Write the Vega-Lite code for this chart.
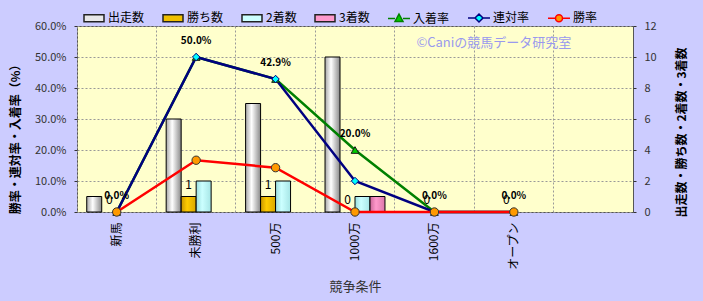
{
  "$schema": "https://vega.github.io/schema/vega-lite/v6.json",
  "width": 556,
  "height": 186,
  "autosize": {"type": "none"},
  "padding": {"left": 77, "top": 26, "right": 70, "bottom": 89},
  "background": "#ccccff",
  "config": {
    "font": "Noto Sans CJK JP",
    "view": {"fill": "#ffffcc", "stroke": "#555555", "strokeWidth": 1},
    "axis": {"domain": false, "labelColor": "#333333", "labelFontSize": 11, "titleColor": "#000000"},
    "legend": {"labelFontSize": 12, "labelColor": "#000000", "padding": 0}
  },
  "datasets": {
    "counts": [
      {"c": "新馬", "s": "出走数", "v": 1}, {"c": "新馬", "s": "勝ち数", "v": 0}, {"c": "新馬", "s": "2着数", "v": 0}, {"c": "新馬", "s": "3着数", "v": 0},
      {"c": "未勝利", "s": "出走数", "v": 6}, {"c": "未勝利", "s": "勝ち数", "v": 1}, {"c": "未勝利", "s": "2着数", "v": 2}, {"c": "未勝利", "s": "3着数", "v": 0},
      {"c": "500万", "s": "出走数", "v": 7}, {"c": "500万", "s": "勝ち数", "v": 1}, {"c": "500万", "s": "2着数", "v": 2}, {"c": "500万", "s": "3着数", "v": 0},
      {"c": "1000万", "s": "出走数", "v": 10}, {"c": "1000万", "s": "勝ち数", "v": 0}, {"c": "1000万", "s": "2着数", "v": 1}, {"c": "1000万", "s": "3着数", "v": 1},
      {"c": "1600万", "s": "出走数", "v": 0}, {"c": "1600万", "s": "勝ち数", "v": 0}, {"c": "1600万", "s": "2着数", "v": 0}, {"c": "1600万", "s": "3着数", "v": 0},
      {"c": "オープン", "s": "出走数", "v": 0}, {"c": "オープン", "s": "勝ち数", "v": 0}, {"c": "オープン", "s": "2着数", "v": 0}, {"c": "オープン", "s": "3着数", "v": 0}
    ],
    "rates": [
      {"c": "新馬", "s": "入着率", "v": 0}, {"c": "未勝利", "s": "入着率", "v": 0.5}, {"c": "500万", "s": "入着率", "v": 0.429}, {"c": "1000万", "s": "入着率", "v": 0.2}, {"c": "1600万", "s": "入着率", "v": 0}, {"c": "オープン", "s": "入着率", "v": 0},
      {"c": "新馬", "s": "連対率", "v": 0}, {"c": "未勝利", "s": "連対率", "v": 0.5}, {"c": "500万", "s": "連対率", "v": 0.429}, {"c": "1000万", "s": "連対率", "v": 0.1}, {"c": "1600万", "s": "連対率", "v": 0}, {"c": "オープン", "s": "連対率", "v": 0},
      {"c": "新馬", "s": "勝率", "v": 0}, {"c": "未勝利", "s": "勝率", "v": 0.167}, {"c": "500万", "s": "勝率", "v": 0.143}, {"c": "1000万", "s": "勝率", "v": 0}, {"c": "1600万", "s": "勝率", "v": 0}, {"c": "オープン", "s": "勝率", "v": 0}
    ]
  },
  "encoding": {
    "x": {
      "field": "c", "type": "nominal",
      "scale": {"domain": ["新馬", "未勝利", "500万", "1000万", "1600万", "オープン", " "], "paddingInner": 0, "paddingOuter": 0},
      "axis": {
        "bandPosition": 0, "labelAngle": -90, "ticks": false,
        "grid": true, "gridDash": [2, 2], "gridColor": "#999999",
        "labelFontSize": 12, "labelColor": "#000000", "labelPadding": 10,
        "title": "競争条件", "titleFontSize": 13, "titleFontWeight": "normal", "titleColor": "#333333", "titleY": 74, "titleBaseline": "middle"
      }
    }
  },
  "layer": [
    {
      "data": {"name": "counts"},
      "encoding": {
        "y": {
          "field": "v", "type": "quantitative",
          "scale": {"domain": [0, 12], "nice": false},
          "axis": {
            "orient": "right", "values": [0, 2, 4, 6, 8, 10, 12], "grid": false, "tickSize": 3, "tickColor": "#333333", "labelPadding": 8,
            "title": "出走数・勝ち数・2着数・3着数", "titleFontSize": 12, "titleFontWeight": "bold",
            "titleAngle": -90, "titleX": 48, "titleY": 106, "titleAlign": "center", "titleBaseline": "middle"
          }
        },
        "xOffset": {"field": "s", "type": "nominal", "scale": {"domain": ["出走数", "勝ち数", "2着数", "3着数"], "paddingInner": 0, "paddingOuter": 0.65}}
      },
      "layer": [
        {
          "transform": [{"filter": "datum.s === '出走数' && datum.v > 0"}],
          "mark": {"type": "bar", "stroke": "#000000", "strokeWidth": 1,
            "fill": {"gradient": "linear", "x1": 0, "x2": 1, "y1": 0, "y2": 0, "stops": [{"offset": 0, "color": "#a8a8a8"}, {"offset": 0.4, "color": "#ffffff"}, {"offset": 1, "color": "#8a8a8a"}]}}
        },
        {
          "transform": [{"filter": "datum.s === '勝ち数' && datum.v > 0"}],
          "mark": {"type": "bar", "stroke": "#000000", "strokeWidth": 1,
            "fill": {"gradient": "linear", "x1": 0, "x2": 1, "y1": 0, "y2": 0, "stops": [{"offset": 0, "color": "#c89600"}, {"offset": 0.4, "color": "#ffcc00"}, {"offset": 1, "color": "#d9a800"}]}}
        },
        {
          "transform": [{"filter": "datum.s === '2着数' && datum.v > 0"}],
          "mark": {"type": "bar", "stroke": "#000000", "strokeWidth": 1,
            "fill": {"gradient": "linear", "x1": 0, "x2": 1, "y1": 0, "y2": 0, "stops": [{"offset": 0, "color": "#99dddd"}, {"offset": 0.4, "color": "#ccffff"}, {"offset": 1, "color": "#a6e6e6"}]}}
        },
        {
          "transform": [{"filter": "datum.s === '3着数' && datum.v > 0"}],
          "mark": {"type": "bar", "stroke": "#000000", "strokeWidth": 1,
            "fill": {"gradient": "linear", "x1": 0, "x2": 1, "y1": 0, "y2": 0, "stops": [{"offset": 0, "color": "#cc6699"}, {"offset": 0.4, "color": "#ff99cc"}, {"offset": 1, "color": "#dd77aa"}]}}
        },
        {
          "transform": [{"filter": "datum.s === '勝ち数'"}],
          "mark": {"type": "text", "dy": -12, "fontSize": 12, "color": "#000000"},
          "encoding": {"text": {"field": "v", "type": "quantitative"}}
        }
      ]
    },
    {
      "data": {"name": "rates"},
      "encoding": {
        "y": {
          "field": "v", "type": "quantitative",
          "scale": {"domain": [0, 0.6], "nice": false},
          "axis": {
            "orient": "left", "format": ".1%", "values": [0, 0.1, 0.2, 0.3, 0.4, 0.5, 0.6],
            "grid": true, "gridDash": [2, 2], "gridColor": "#999999", "tickSize": 3, "tickColor": "#333333", "labelPadding": 8,
            "title": "勝率・連対率・入着率（%）", "titleFontSize": 12, "titleFontWeight": "bold",
            "titleAngle": -90, "titleX": -62, "titleY": 110, "titleAlign": "center", "titleBaseline": "middle"
          }
        }
      },
      "layer": [
        {
          "transform": [{"filter": "datum.s === '入着率'"}],
          "mark": {"type": "line", "stroke": "#008000", "strokeWidth": 2.5},
          "encoding": {"order": {"value": null}}
        },
        {
          "transform": [{"filter": "datum.s === '連対率'"}],
          "mark": {"type": "line", "stroke": "#000080", "strokeWidth": 2.5},
          "encoding": {"order": {"value": null}}
        },
        {
          "transform": [{"filter": "datum.s === '勝率'"}],
          "mark": {"type": "line", "stroke": "#ff0000", "strokeWidth": 2.5},
          "encoding": {"order": {"value": null}}
        },
        {
          "transform": [{"filter": "datum.s === '入着率'"}],
          "mark": {"type": "point", "shape": "triangle-up", "size": 60, "filled": true, "fill": "#00cc00", "stroke": "#1a1a1a", "strokeWidth": 1, "opacity": 1}
        },
        {
          "transform": [{"filter": "datum.s === '連対率'"}],
          "mark": {"type": "point", "shape": "diamond", "size": 55, "filled": true, "fill": "#00ffff", "stroke": "#000080", "strokeWidth": 1, "opacity": 1}
        },
        {
          "transform": [{"filter": "datum.s === '勝率'"}],
          "mark": {"type": "point", "shape": "circle", "size": 70, "filled": true, "fill": "#ff9900", "stroke": "#333333", "strokeWidth": 1, "opacity": 1}
        },
        {
          "transform": [{"filter": "datum.s === '入着率'"}],
          "mark": {"type": "text", "dy": -16, "fontSize": 10, "fontWeight": "bold", "color": "#000000"},
          "encoding": {"text": {"field": "v", "type": "quantitative", "format": ".1%"}}
        },
        {
          "transform": [{"filter": "false"}],
          "mark": {"type": "point", "filled": true, "opacity": 1},
          "encoding": {
            "shape": {
              "field": "s", "type": "nominal",
              "scale": {
                "domain": ["出走数", "勝ち数", "2着数", "3着数", "入着率", "連対率", "勝率"],
                "range": [
                  "M-1,-0.35H1V0.35H-1Z", "M-1,-0.35H1V0.35H-1Z", "M-1,-0.35H1V0.35H-1Z", "M-1,-0.35H1V0.35H-1Z",
                  "M-1.1,0H-0.4M0.4,0H1.1M0,-0.45L0.4,0.3L-0.4,0.3Z",
                  "M-1.1,0H-0.4M0.4,0H1.1M0,-0.4L0.4,0L0,0.4L-0.4,0Z",
                  "M-1.1,0H-0.35M0.35,0H1.1M0.35,0A0.35,0.35,0,1,1,-0.35,0A0.35,0.35,0,1,1,0.35,0Z"
                ]
              },
              "legend": {
                "title": null, "orient": "none", "legendX": 6, "legendY": -19, "direction": "horizontal",
                "columnPadding": 15, "labelOffset": 3, "symbolSize": 400, "symbolStrokeWidth": 1.5, "symbolOpacity": 1
              }
            },
            "fill": {
              "field": "s", "type": "nominal",
              "scale": {
                "domain": ["出走数", "勝ち数", "2着数", "3着数", "入着率", "連対率", "勝率"],
                "range": ["#e8e8e8", "#f0c000", "#ccffff", "#ff99cc", "#00cc00", "#00ffff", "#ff9900"]
              },
              "legend": {
                "title": null, "orient": "none", "legendX": 6, "legendY": -19, "direction": "horizontal",
                "columnPadding": 15, "labelOffset": 3, "symbolSize": 400, "symbolStrokeWidth": 1.5, "symbolOpacity": 1
              }
            },
            "stroke": {
              "field": "s", "type": "nominal",
              "scale": {
                "domain": ["出走数", "勝ち数", "2着数", "3着数", "入着率", "連対率", "勝率"],
                "range": ["#222222", "#222222", "#222222", "#222222", "#008000", "#000080", "#ff0000"]
              },
              "legend": {
                "title": null, "orient": "none", "legendX": 6, "legendY": -19, "direction": "horizontal",
                "columnPadding": 15, "labelOffset": 3, "symbolSize": 400, "symbolStrokeWidth": 1.5, "symbolOpacity": 1
              }
            }
          }
        },
        {
          "transform": [{"filter": "datum.s === '入着率' && datum.c === 'オープン'"}],
          "mark": {"type": "text", "text": "©Caniの競馬データ研究室", "fontSize": 13, "color": "#9999ee", "dx": -20, "dy": 1},
          "encoding": {
            "y": {"datum": 0.55, "type": "quantitative"}
          }
        }
      ]
    }
  ],
  "resolve": {"scale": {"y": "independent"}}
}
